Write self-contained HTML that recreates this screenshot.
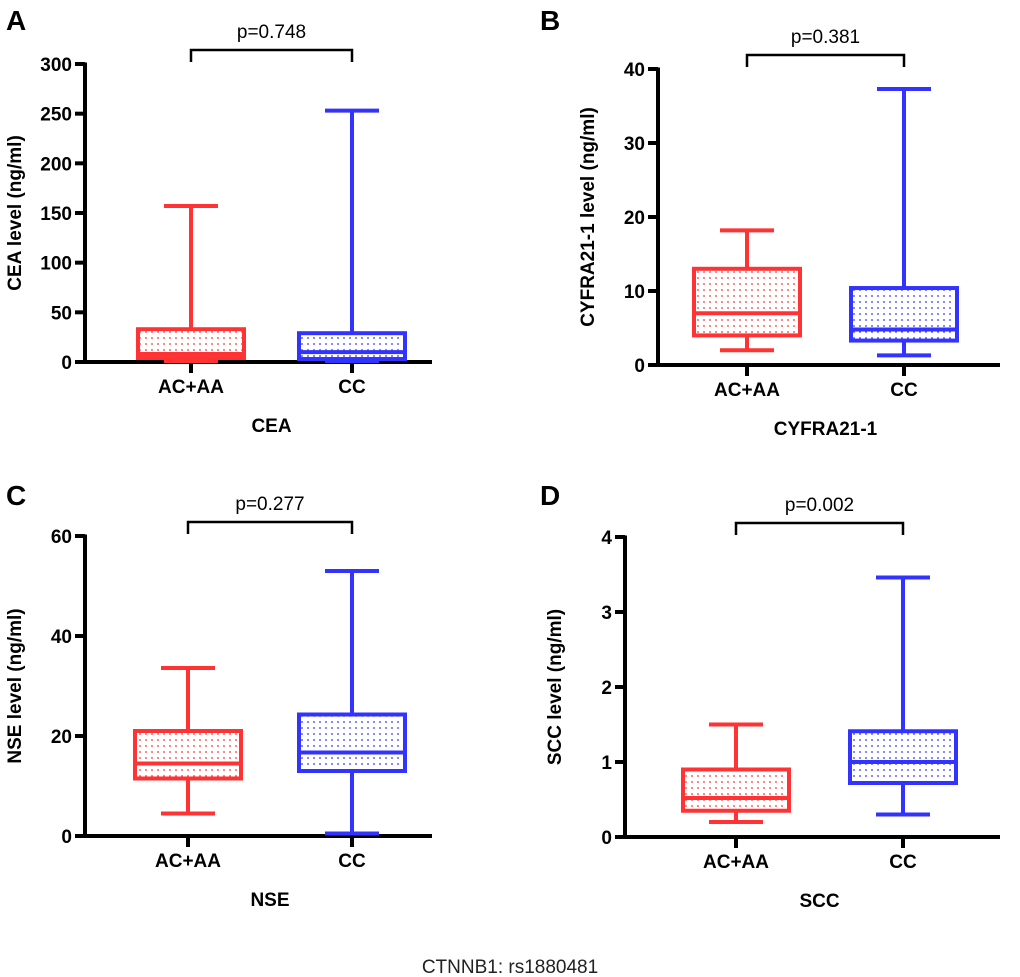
<!DOCTYPE html>
<html><head><meta charset="utf-8"><style>
body{margin:0;background:#fff;}
svg{display:block;font-family:"Liberation Sans",Arial,sans-serif;}
</style></head><body>
<svg id="c" width="1020" height="977" viewBox="0 0 1020 977">
<defs>
<pattern id="pr" width="6" height="6" patternUnits="userSpaceOnUse"><rect width="6" height="6" fill="#fff"/><circle cx="2" cy="2" r="0.9" fill="#f33"/></pattern>
<pattern id="pb" width="6" height="6" patternUnits="userSpaceOnUse"><rect width="6" height="6" fill="#fff"/><circle cx="2" cy="2" r="0.9" fill="#33f"/></pattern>
</defs>
<text x="510" y="973" text-anchor="middle" font-size="19" fill="#222">CTNNB1: rs1880481</text>
</svg>
<script>
const categories=["AC+AA","CC"];
const panelLetters=["A","B","C","D"];
const panelTitles=["CEA","CYFRA21-1","NSE","SCC"];
const yTitles=["CEA level (ng/ml)","CYFRA21-1 level (ng/ml)","NSE level (ng/ml)","SCC level (ng/ml)"];
const pValues=["p=0.748","p=0.381","p=0.277","p=0.002"];
const yMax=[300,40,60,4];
const yTicks=[[0,50,100,150,200,250,300],[0,10,20,30,40],[0,20,40,60],[0,1,2,3,4]];
// [min,q1,median,q3,max] per category
const statsA=[[1,4,8,33,157],[1,3,10,29,253]];
const statsB=[[2,4,7,13,18.2],[1.3,3.3,4.8,10.4,37.3]];
const statsC=[[4.5,11.5,14.5,21,33.6],[0.5,13,16.7,24.3,53]];
const statsD=[[0.2,0.35,0.52,0.9,1.5],[0.3,0.72,1.0,1.41,3.46]];
const allStats=[statsA,statsB,statsC,statsD];
const layout=[
 {ax:85,top:64,bot:362,xEnd:432,cx:[191,352],letter:[6,30]},
 {ax:658,top:69,bot:365,xEnd:1000,cx:[747,904],letter:[540,30]},
 {ax:85,top:536,bot:836,xEnd:432,cx:[188,352],letter:[6,505]},
 {ax:625,top:537,bot:837,xEnd:1000,cx:[736,903],letter:[540,505]}
];
const svg=document.getElementById('c');
const NS="http://www.w3.org/2000/svg";
function mk(tag,attrs,parent){const e=document.createElementNS(NS,tag);for(const k in attrs)e.setAttribute(k,attrs[k]);(parent||svg).appendChild(e);return e;}
const colors=["#f33","#33f"],fills=["url(#pr)","url(#pb)"];
const SW=4;
for(let p=0;p<4;p++){
 const L=layout[p];
 const g=mk('g',{});
 
 
 const y=v=>L.bot-(v/yMax[p])*(L.bot-L.top);
 const lt=mk('text',{x:L.letter[0],y:L.letter[1],'font-size':28,'font-weight':'bold'},g);lt.textContent=panelLetters[p];
 
 
 const ya=mk('line',{x1:L.ax,y1:L.top-1.5,x2:L.ax,y2:L.bot+2,stroke:'#000','stroke-width':SW},g);
 
 
 const xa=mk('line',{x1:L.ax-2,y1:L.bot,x2:L.xEnd,y2:L.bot,stroke:'#000','stroke-width':SW},g);
 
 
 yTicks[p].forEach(t=>{
  mk('line',{x1:L.ax-10,y1:y(t),x2:L.ax,y2:y(t),stroke:'#000','stroke-width':SW},g);
  const tx=mk('text',{x:L.ax-13,y:y(t)+7,'text-anchor':'end','font-size':19,'font-weight':'bold'},g);tx.textContent=t;
  
  
 });
 const midY=(L.top+L.bot)/2;
 const yt=mk('text',{x:0,y:0,'text-anchor':'middle','font-size':19,'font-weight':'bold',transform:`translate(${L.ax-64},${midY}) rotate(-90)`},g);yt.textContent=yTitles[p];
 
 
 const st=allStats[p];
 for(let c=0;c<2;c++){
  const cx=L.cx[c],s=st[c],col=colors[c];
  mk('line',{x1:cx,y1:L.bot,x2:cx,y2:L.bot+11,stroke:'#000','stroke-width':SW},g);
  const cl=mk('text',{x:cx,y:L.bot+31,'text-anchor':'middle','font-size':19,'font-weight':'bold'},g);cl.textContent=categories[c];
  
  
  const bg=mk('g',{},g);
  
  
  mk('line',{x1:cx,y1:y(s[0]),x2:cx,y2:y(s[4]),stroke:col,'stroke-width':SW},bg);
  mk('line',{x1:cx-27,y1:y(s[0]),x2:cx+27,y2:y(s[0]),stroke:col,'stroke-width':SW},bg);
  mk('line',{x1:cx-27,y1:y(s[4]),x2:cx+27,y2:y(s[4]),stroke:col,'stroke-width':SW},bg);
  mk('rect',{x:cx-53,y:y(s[3]),width:106,height:Math.max(1,y(s[1])-y(s[3])),fill:fills[c],stroke:col,'stroke-width':SW},bg);
  mk('line',{x1:cx-53,y1:y(s[2]),x2:cx+53,y2:y(s[2]),stroke:col,'stroke-width':SW},bg);
 }
 const by=L.top-14;
 const br=mk('path',{d:`M${L.cx[0]},${by+12}V${by}H${L.cx[1]}V${by+12}`,fill:'none',stroke:'#000','stroke-width':2.5},g);
 
 
 const pt=mk('text',{x:(L.cx[0]+L.cx[1])/2,y:by-12,'text-anchor':'middle','font-size':19},g);pt.textContent=pValues[p];
 
 
 const pt2=mk('text',{x:(L.cx[0]+L.cx[1])/2,y:L.bot+70,'text-anchor':'middle','font-size':19,'font-weight':'bold'},g);pt2.textContent=panelTitles[p];
 
 
}
</script>
</body></html>
